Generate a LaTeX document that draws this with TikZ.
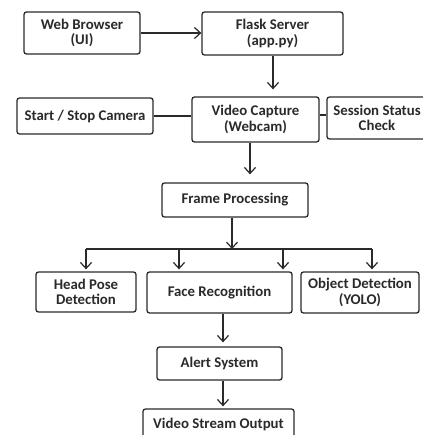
\documentclass[tikz,border=0pt]{standalone}
\usepackage{fontspec}
\setmainfont{Carlito}
\usetikzlibrary{arrows.meta,calc}
\definecolor{ink}{HTML}{2A2A2A}
\tikzset{
  box/.style={draw=ink, line width=1.3pt, rounded corners=2.5pt, inner sep=0pt, align=center,
    text=ink, font=\fontsize{14.8}{15.5}\selectfont\bfseries, fill=white},
  conn/.style={draw=ink, line width=1.3pt},
  arr/.style={conn, -{Straight Barb[length=6pt,width=11pt,line width=1.2pt]}}
}
\begin{document}
\begin{tikzpicture}[x=1pt,y=-1pt]
\useasboundingbox[fill=white] (0,0) rectangle (422,435);
\node[box, minimum width=116pt, minimum height=42pt] (web) at (82,33) {Web Browser\\(UI)};
\node[box, minimum width=141pt, minimum height=43pt] (flask) at (272.5,33.5) {Flask Server\\(app.py)};
\node[box, minimum width=136pt, minimum height=36pt] (start) at (85,116) {Start / Stop Camera};
\node[box, minimum width=127pt, minimum height=45pt] (vc) at (255.5,119.5) {Video Capture\\(Webcam)};
\node[box, minimum width=100pt, minimum height=42pt] (sess) at (377,118) {Session Status\\Check};
\node[box, minimum width=146pt, minimum height=34pt] (fp) at (235,200) {Frame Processing};
\node[box, minimum width=100pt, minimum height=40pt] (head) at (86,292) {Head Pose\\Detection};
\node[box, minimum width=145pt, minimum height=41pt] (face) at (219.5,292.5) {Face Recognition};
\node[box, minimum width=118pt, minimum height=41pt] (obj) at (360,292.5) {Object Detection\\(YOLO)};
\node[box, minimum width=125pt, minimum height=33pt] (alert) at (219.5,363.5) {Alert System};
\node[box, minimum width=151pt, minimum height=31pt] (vso) at (218.5,424.5) {Video Stream Output};

\coordinate (barL) at (86,249);
\coordinate (barR) at (372,249);
\coordinate (barM) at (232,249);

\draw[arr] (web.east) -- (web.east -| flask.west);
\draw[arr, shorten >=7pt] ($(flask.south)+(0.5,0)$) -- ($(vc.north)+(17.5,0)$);
\draw[conn] (start.east) -- (start.east -| vc.west);
\draw[conn] ($(vc.east)+(0,-4.5)$) -- ($(vc.east -| sess.west)+(0,-4.5)$);
\draw[arr, shorten >=8pt] ($(vc.south)+(-5.5,0)$) -- ($(fp.north)+(15,0)$);
\draw[arr] ($(fp.south)+(-3,0)$) -- (barM);
\draw[conn] (barL) -- (barR);
\draw[arr, shorten >=2pt] (barL) -- (head.north);
\draw[arr, shorten >=2pt] (barL -| 179,0) -- (face.north -| 179,0);
\draw[arr, shorten >=2pt] (barL -| 283,0) -- (face.north -| 283,0);
\draw[arr, shorten >=2pt] (barR) -- (obj.north -| barR);
\draw[arr, shorten >=4pt] ($(face.south)+(3.5,0)$) -- ($(alert.north)+(3.5,0)$);
\draw[arr, shorten >=2pt] ($(alert.south)+(3.5,0)$) -- ($(vso.north)+(4.5,0)$);
\end{tikzpicture}
\end{document}
